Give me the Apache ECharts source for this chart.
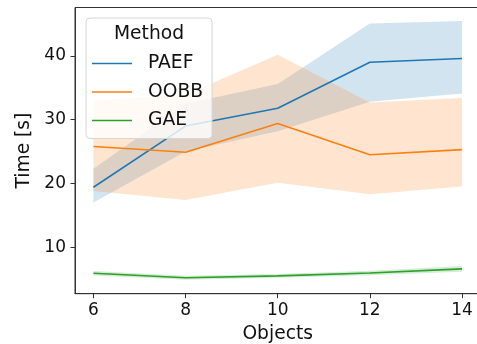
<!DOCTYPE html>
<html><head><meta charset="utf-8">
<script src="https://cdn.jsdelivr.net/npm/echarts@6/dist/echarts.min.js"></script>
<style>html,body{margin:0;padding:0;background:#fff}#c{width:477px;height:344px}</style>
</head><body><div id="c"></div>
<script>
const objects = [6, 8, 10, 12, 14];
const paefMean = [19.4, 29.0, 31.8, 39.0, 39.6];
const paefLow  = [17.0, 25.0, 28.2, 32.8, 34.1];
const paefHigh = [22.3, 32.5, 35.6, 45.1, 45.5];
const oobbMean = [25.8, 24.9, 29.4, 24.5, 25.3];
const oobbLow  = [18.8, 17.4, 20.1, 18.3, 19.5];
const oobbHigh = [33.0, 33.9, 40.2, 32.7, 33.4];
const gaeMean  = [5.9, 5.2, 5.5, 5.95, 6.6];
const gaeLow   = [5.55, 4.9, 5.2, 5.6, 6.15];
const gaeHigh  = [6.25, 5.5, 5.8, 6.3, 7.05];
const xTicks = [6, 8, 10, 12, 14];
const yTicks = [10, 20, 30, 40];
const names = ['PAEF', 'OOBB', 'GAE'];
const colors = ['#1f77b4', '#ff7f0e', '#2ca02c'];
const bandFill = ['rgba(31,119,180,0.2)', 'rgba(255,127,14,0.2)', 'rgba(44,160,44,0.2)'];

const FONT = 'DejaVu Sans';
const FS_TICK = 17;
const FS = 18.7;

function bandSeries(low, high, fill) {
  return {
    type: 'custom',
    silent: true,
    clip: true,
    data: [[objects[0], low[0]]],
    renderItem: function (params, api) {
      const pts = [];
      for (let i = 0; i < objects.length; i++) pts.push(api.coord([objects[i], high[i]]));
      for (let i = objects.length - 1; i >= 0; i--) pts.push(api.coord([objects[i], low[i]]));
      return { type: 'polygon', shape: { points: pts }, style: { fill: fill, stroke: 'none' } };
    },
    z: 1
  };
}
function lineSeries(name, vals, color) {
  return {
    name: name, type: 'line', data: objects.map((x, i) => [x, vals[i]]),
    symbol: 'none', lineStyle: { color: color, width: 1.6 }, itemStyle: { color: color }, z: 3
  };
}

const chart = echarts.init(document.getElementById('c'), null, { renderer: 'canvas' });
chart.setOption({
  animation: false,
  textStyle: { fontFamily: FONT },
  grid: { left: 75, top: 7.5, right: -3.4, bottom: 50.3, show: true, borderColor: '#333', borderWidth: 1,
          backgroundColor: 'transparent', containLabel: false, outerBoundsMode: 'none' },
  xAxis: {
    type: 'value', min: 5.6, max: 14.4,
    name: 'Objects', nameLocation: 'middle', nameGap: 31,
    nameTextStyle: { fontSize: FS, color: '#111', fontFamily: FONT },
    axisLine: { show: true, lineStyle: { color: '#333', width: 1 } },
    axisTick: { show: true, length: 4.5, customValues: xTicks, lineStyle: { color: '#333' } },
    axisLabel: { customValues: xTicks, fontSize: FS_TICK, color: '#111', margin: 8, fontFamily: FONT },
    splitLine: { show: false }
  },
  yAxis: {
    type: 'value', min: 2.7, max: 47.6,
    name: 'Time [s]', nameLocation: 'middle', nameGap: 39, nameRotate: 90,
    nameTextStyle: { fontSize: FS, color: '#111', fontFamily: FONT },
    axisLine: { show: true, lineStyle: { color: '#333', width: 1 } },
    axisTick: { show: true, length: 4.5, customValues: yTicks, lineStyle: { color: '#333' } },
    axisLabel: { customValues: yTicks, fontSize: FS_TICK, color: '#111', margin: 9, fontFamily: FONT },
    splitLine: { show: false }
  },
  title: {
    text: 'Method', left: 149, top: 25, textAlign: 'center',
    textStyle: { fontSize: FS, fontWeight: 'normal', color: '#111', fontFamily: FONT },
    padding: 0, z: 20
  },
  legend: {
    data: names, orient: 'vertical', left: 86, top: 18,
    icon: 'rect',
    padding: [36, 9, 8.5, 6], itemGap: 9.5, itemWidth: 40, itemHeight: 1.7,
    backgroundColor: 'rgba(255,255,255,0.8)', borderColor: '#d6d6d6', borderWidth: 1, borderRadius: 4,
    textStyle: { fontSize: FS, color: '#111', fontFamily: FONT, padding: [0, 0, 0, 11] },
    z: 10
  },
  series: [
    bandSeries(paefLow, paefHigh, bandFill[0]),
    lineSeries('PAEF', paefMean, colors[0]),
    bandSeries(oobbLow, oobbHigh, bandFill[1]),
    lineSeries('OOBB', oobbMean, colors[1]),
    bandSeries(gaeLow, gaeHigh, bandFill[2]),
    lineSeries('GAE', gaeMean, colors[2])
  ]
});
</script></body></html>
